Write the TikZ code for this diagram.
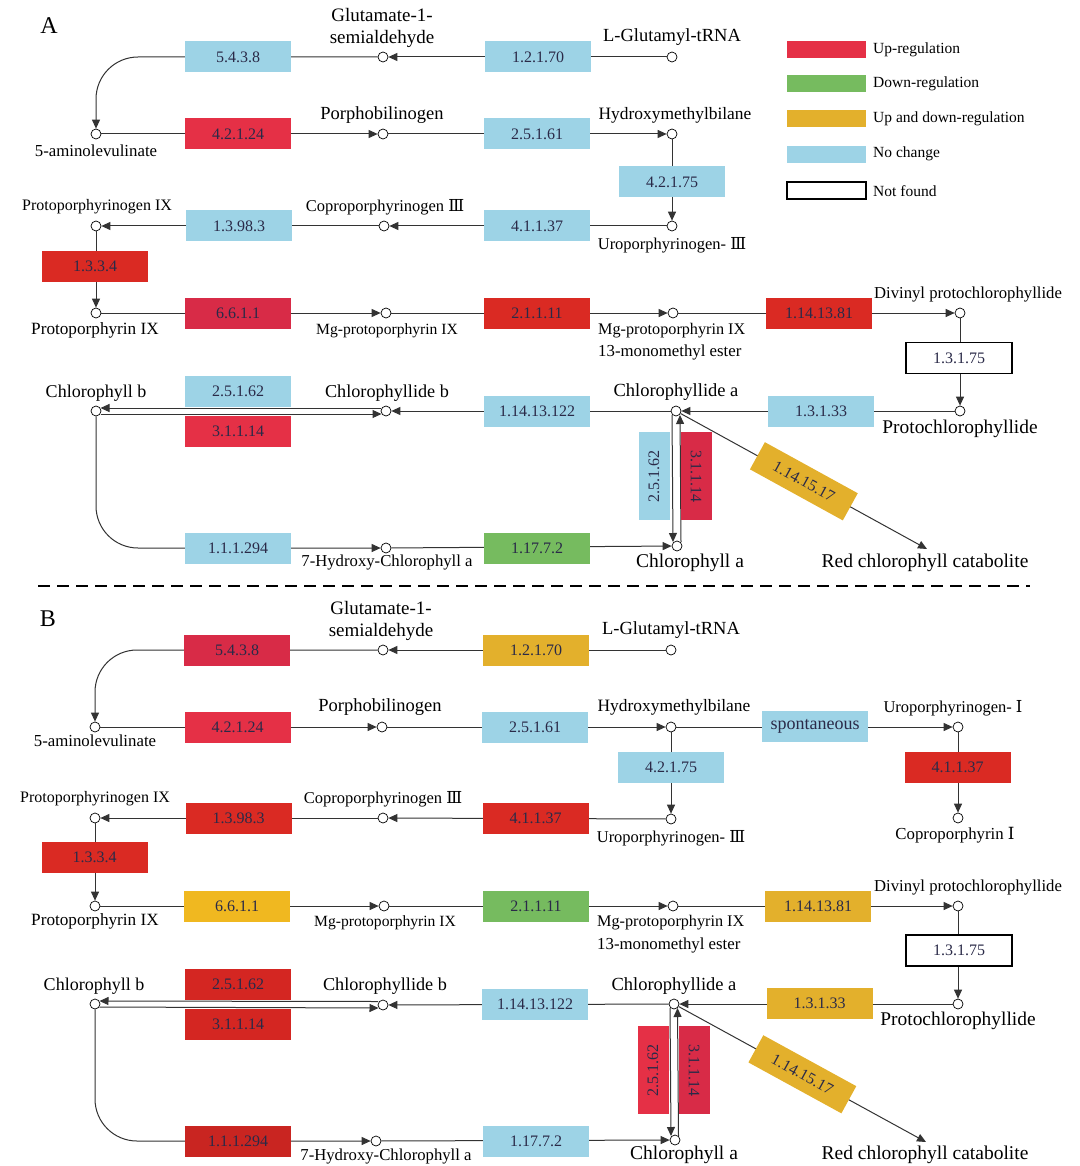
\documentclass[tikz,border=0pt]{standalone}
\usepackage{fontspec}
\setmainfont{Liberation Serif}
\newfontfamily\rnfont{DejaVu Serif}
\usetikzlibrary{arrows.meta,calc}
\definecolor{cRed}{HTML}{E53046}
\definecolor{cCrim}{HTML}{D82B47}
\definecolor{cRedB}{HTML}{DA2A23}
\definecolor{cRedC}{HTML}{D42622}
\definecolor{cRedD}{HTML}{C92521}
\definecolor{cGreen}{HTML}{76BB5F}
\definecolor{cOr}{HTML}{E3B02C}
\definecolor{cOrB}{HTML}{F0B820}
\definecolor{cBlue}{HTML}{9DD3E6}
\definecolor{ink}{HTML}{2A2A48}
\definecolor{lnc}{HTML}{333333}
\begin{document}
\begin{tikzpicture}[x=1pt,y=-1pt,
 met/.style={circle,draw=black,fill=white,inner sep=0pt,minimum size=10pt,line width=0.7pt},
 conn/.style={draw=lnc,line width=1pt},
 arr/.style={conn,-{Triangle[length=9pt,width=8pt]}},
 ebox/.style={rectangle,minimum width=106pt,minimum height=31pt,inner sep=0pt,text=ink,font=\fontsize{16}{16}\selectfont},
 vbox/.style={rectangle,minimum width=88pt,minimum height=31pt,inner sep=0pt,text=ink,font=\fontsize{16}{16}\selectfont},
 nf/.style={draw=black,line width=1.3pt,fill=white},
 lab/.style={inner sep=0pt,text=black,font=\fontsize{#1}{#1}\selectfont},
 leg/.style={rectangle,minimum width=79pt,minimum height=17pt,inner sep=0pt},
]
\useasboundingbox (0,0) rectangle (1079,1166);

% ================= PANEL A =================
\node[lab=24] (Aletter) at (49,26) {A};
% metabolites
\node[met] (Aglu) at (383,57) {};
\node[met] (Altr) at (672,57) {};
\node[met] (Aala) at (96,134) {};
\node[met] (Apbg) at (383,134) {};
\node[met] (Ahmb) at (672,134) {};
\node[met] (Auro) at (672,226) {};
\node[met] (Acop) at (384,226) {};
\node[met] (Appg) at (96,226) {};
\node[met] (Appx) at (96,313) {};
\node[met] (Amgp) at (386,313) {};
\node[met] (Amge) at (673,313) {};
\node[met] (Advp) at (960,313) {};
\node[met] (Apch) at (960,411) {};
\node[met] (Acda) at (676,411) {};
\node[met] (Acdb) at (386,411) {};
\node[met] (Achb) at (96,411) {};
\node[met] (Ahyd) at (386,548) {};
\node[met] (Acha) at (677,546) {};
\coordinate (Arcc) at (927,549);
% connectors
\draw[arr] (Altr) -- (Aglu);
\draw[arr,rounded corners=42pt] (Aglu) -| (Aala);
\draw[arr] (Aala) -- (Apbg);
\draw[arr] (Apbg) -- (Ahmb);
\draw[arr] (Ahmb) -- (Auro);
\draw[arr] (Auro) -- (Acop);
\draw[arr] (Acop) -- (Appg);
\draw[arr] (Appg) -- (Appx);
\draw[arr] (Appx) -- (Amgp);
\draw[arr] (Amgp) -- (Amge);
\draw[arr] (Amge) -- (Advp);
\draw[arr] (Advp) -- (Apch);
\draw[arr] (Apch) -- (Acda);
\draw[arr] (Acda) -- (Acdb);
\draw[arr] ($(Acdb.center)+(-5,-3)$) -- ($(Achb.center)+(4.5,-3)$);
\draw[arr] ($(Achb.center)+(4.5,3)$) -- ($(Acdb.center)+(-4.5,3)$);
\draw[arr,rounded corners=42pt] (Achb) |- (Ahyd);
\draw[arr] (Ahyd) -- (Acha);
\draw[arr] ($(Acda.center)+(-4,4)$) -- ($(Acha.center)+(-4,-4)$);
\draw[arr] ($(Acha.center)+(4,-4)$) -- ($(Acda.center)+(4,4)$);
\draw[arr] (Acda) -- node[ebox,sloped,fill=cOr] (Ae21) {1.14.15.17} (Arcc);
% enzymes
\node[ebox,fill=cBlue] (Ae1) at (238,57) {5.4.3.8};
\node[ebox,fill=cBlue] (Ae2) at (538,57) {1.2.1.70};
\node[ebox,fill=cRed] (Ae3) at (238,134) {4.2.1.24};
\node[ebox,fill=cBlue] (Ae4) at (537,134) {2.5.1.61};
\node[ebox,fill=cBlue] (Ae5) at (672,182) {4.2.1.75};
\node[ebox,fill=cBlue] (Ae6) at (537,226) {4.1.1.37};
\node[ebox,fill=cBlue] (Ae7) at (239,226) {1.3.98.3};
\node[ebox,fill=cRedB] (Ae8) at (95,266) {1.3.3.4};
\node[ebox,fill=cCrim] (Ae9) at (238,313) {6.6.1.1};
\node[ebox,fill=cRedB] (Ae10) at (537,313) {2.1.1.11};
\node[ebox,fill=cRedB] (Ae11) at (819,313) {1.14.13.81};
\node[ebox,nf] (Ae12) at (959,358) {1.3.1.75};
\node[ebox,fill=cBlue] (Ae13) at (821,411) {1.3.1.33};
\node[ebox,fill=cBlue] (Ae14) at (537,411) {1.14.13.122};
\node[ebox,fill=cBlue] (Ae15) at (238,391) {2.5.1.62};
\node[ebox,fill=cRed] (Ae16) at (238,431) {3.1.1.14};
\node[ebox,fill=cBlue] (Ae17) at (238,548) {1.1.1.294};
\node[ebox,fill=cGreen] (Ae18) at (537,548) {1.17.7.2};
\node[vbox,fill=cBlue,rotate=90] (Ae19) at (654,476) {2.5.1.62};
\node[vbox,fill=cCrim,rotate=-90] (Ae20) at (696,476) {3.1.1.14};
% labels
\node[inner sep=0pt,align=center,font=\fontsize{19}{21.5}\selectfont] (Al1) at (382,28) {Glutamate-1-\\semialdehyde};
\node[lab=18.5] (Al2) at (672,37) {L-Glutamyl-tRNA};
\node[lab=16.8] (Al3) at (96,151) {5-aminolevulinate};
\node[lab=18.5] (Al4) at (382,115) {Porphobilinogen};
\node[lab=17.4] (Al5) at (675,115) {Hydroxymethylbilane};
\node[lab=16] (Al6) at (97,207) {Protoporphyrinogen IX};
\node[lab=16.5] (Al7) at (385,207) {Coproporphyrinogen {\rnfont Ⅲ}};
\node[lab=16.5] (Al8) at (672,245) {Uroporphyrinogen- {\rnfont Ⅲ}};
\node[lab=17.2] (Al9) at (95,330) {Protoporphyrin IX};
\node[lab=15.6] (Al10) at (387,331) {Mg-protoporphyrin IX};
\node[lab=16.2,anchor=west] (Al11) at (598,331) {Mg-protoporphyrin IX};
\node[lab=16.8,anchor=west] (Al12) at (598,352) {13-monomethyl ester};
\node[lab=16.7] (Al13) at (968,295) {Divinyl protochlorophyllide};
\node[lab=19.4] (Al14) at (960,429) {Protochlorophyllide};
\node[lab=18.5] (Al15) at (676,392) {Chlorophyllide a};
\node[lab=18.2] (Al16) at (387,393) {Chlorophyllide b};
\node[lab=18] (Al17) at (96,393) {Chlorophyll b};
\node[lab=16.7] (Al18) at (387,563) {7-Hydroxy-Chlorophyll a};
\node[lab=19.5] (Al19) at (690,563) {Chlorophyll a};
\node[lab=19.5] (Al20) at (925,563) {Red chlorophyll catabolite};
% legend
\node[leg,fill=cRed] (Lb1) at (826.5,49.5) {};
\node[leg,fill=cGreen] (Lb2) at (826.5,83.5) {};
\node[leg,fill=cOr] (Lb3) at (826.5,118.5) {};
\node[leg,fill=cBlue] (Lb4) at (826.5,154.5) {};
\node[leg,nf] (Lb5) at (826.5,190.5) {};
\node[lab=15.5,anchor=west] (Lt1) at (873,50) {Up-regulation};
\node[lab=15.5,anchor=west] (Lt2) at (873,84) {Down-regulation};
\node[lab=15.5,anchor=west] (Lt3) at (873,119) {Up and down-regulation};
\node[lab=15.5,anchor=west] (Lt4) at (873,154) {No change};
\node[lab=15.5,anchor=west] (Lt5) at (873,191) {Not found};

% separator
\coordinate (S1) at (38,586);
\coordinate (S2) at (1030,586);
\draw[black,line width=1.3pt,dash pattern=on 12pt off 7pt] (S1) -- (S2);

% ================= PANEL B =================
\begin{scope}[shift={(0,593)}]
\node[lab=24] (Bletter) at (48,26) {B};
\node[met] (Bglu) at (383,57) {};
\node[met] (Bltr) at (671,57) {};
\node[met] (Bala) at (95,134) {};
\node[met] (Bpbg) at (382,134) {};
\node[met] (Bhmb) at (671,134) {};
\node[met] (Buri) at (958,134) {};
\node[met] (Bcpi) at (958,225) {};
\node[met] (Buro) at (671,226) {};
\node[met] (Bcop) at (383,225) {};
\node[met] (Bppg) at (95,225) {};
\node[met] (Bppx) at (95,313) {};
\node[met] (Bmgp) at (384,313) {};
\node[met] (Bmge) at (673,313) {};
\node[met] (Bdvp) at (958,313) {};
\node[met] (Bpch) at (958,411) {};
\node[met] (Bcda) at (674,411) {};
\node[met] (Bcdb) at (383,412) {};
\node[met] (Bchb) at (95,411) {};
\node[met] (Bhyd) at (376,548) {};
\node[met] (Bcha) at (675,547) {};
\coordinate (Brcc) at (926,549);
\draw[arr] (Bltr) -- (Bglu);
\draw[arr,rounded corners=42pt] (Bglu) -| (Bala);
\draw[arr] (Bala) -- (Bpbg);
\draw[arr] (Bpbg) -- (Bhmb);
\draw[arr] (Bhmb) -- (Buri);
\draw[arr] (Buri) -- (Bcpi);
\draw[arr] (Bhmb) -- (Buro);
\draw[arr] (Buro) -- (Bcop);
\draw[arr] (Bcop) -- (Bppg);
\draw[arr] (Bppg) -- (Bppx);
\draw[arr] (Bppx) -- (Bmgp);
\draw[arr] (Bmgp) -- (Bmge);
\draw[arr] (Bmge) -- (Bdvp);
\draw[arr] (Bdvp) -- (Bpch);
\draw[arr] (Bpch) -- (Bcda);
\draw[arr] (Bcda) -- (Bcdb);
\draw[arr] ($(Bcdb.center)+(-5,-3.5)$) -- ($(Bchb.center)+(4.5,-3)$);
\draw[arr] ($(Bchb.center)+(4.5,3)$) -- ($(Bcdb.center)+(-4.5,3)$);
\draw[arr,rounded corners=42pt] (Bchb) |- (Bhyd);
\draw[arr] (Bhyd) -- (Bcha);
\draw[arr] ($(Bcda.center)+(-4,4)$) -- ($(Bcha.center)+(-4,-4)$);
\draw[arr] ($(Bcha.center)+(3.5,-4)$) -- ($(Bcda.center)+(3.5,4)$);
\draw[arr] (Bcda) -- node[ebox,sloped,fill=cOr] (Be23) {1.14.15.17} (Brcc);
\node[ebox,fill=cCrim] (Be1) at (237,57) {5.4.3.8};
\node[ebox,fill=cOr] (Be2) at (536,57) {1.2.1.70};
\node[ebox,fill=cRed] (Be3) at (237.5,134) {4.2.1.24};
\node[ebox,fill=cBlue] (Be4) at (535,134) {2.5.1.61};
\node[ebox,fill=cBlue] (Be5) at (815,133.5) {\fontsize{18}{18}\selectfont spontaneous};
\node[ebox,fill=cRedB] (Be6) at (957.5,174.5) {4.1.1.37};
\node[ebox,fill=cBlue] (Be7) at (671,174.5) {4.2.1.75};
\node[ebox,fill=cRedB] (Be8) at (535.5,225.5) {4.1.1.37};
\node[ebox,fill=cRedB] (Be9) at (238.5,225.5) {1.3.98.3};
\node[ebox,fill=cRedB] (Be10) at (94.5,264.5) {1.3.3.4};
\node[ebox,fill=cOrB] (Be11) at (237,313) {6.6.1.1};
\node[ebox,fill=cGreen] (Be12) at (536,313) {2.1.1.11};
\node[ebox,fill=cOr] (Be13) at (818,313) {1.14.13.81};
\node[ebox,nf] (Be14) at (959,357.5) {1.3.1.75};
\node[ebox,fill=cOr] (Be15) at (819.5,410.5) {1.3.1.33};
\node[ebox,fill=cBlue] (Be16) at (535,411) {1.14.13.122};
\node[ebox,fill=cRedC] (Be17) at (238,391.5) {2.5.1.62};
\node[ebox,fill=cRedC] (Be18) at (238,431) {3.1.1.14};
\node[ebox,fill=cRedD] (Be19) at (238,548) {1.1.1.294};
\node[ebox,fill=cBlue] (Be20) at (536,548) {1.17.7.2};
\node[vbox,fill=cRed,rotate=90] (Be21) at (653,477) {2.5.1.62};
\node[vbox,fill=cCrim,rotate=-90] (Be22) at (694,477) {3.1.1.14};
\node[inner sep=0pt,align=center,font=\fontsize{19}{21.5}\selectfont] (Bl1) at (381,28) {Glutamate-1-\\semialdehyde};
\node[lab=18.5] (Bl2) at (671,37) {L-Glutamyl-tRNA};
\node[lab=16.8] (Bl3) at (95,148) {5-aminolevulinate};
\node[lab=18.5] (Bl4) at (380,114) {Porphobilinogen};
\node[lab=17.4] (Bl5) at (674,114) {Hydroxymethylbilane};
\node[lab=16.5] (Bl6) at (953,115) {Uroporphyrinogen- {\rnfont Ⅰ}};
\node[lab=16.8] (Bl7) at (955,242) {Coproporphyrin {\rnfont Ⅰ}};
\node[lab=16] (Bl8) at (95,206) {Protoporphyrinogen IX};
\node[lab=16.5] (Bl9) at (383,206) {Coproporphyrinogen {\rnfont Ⅲ}};
\node[lab=16.5] (Bl10) at (671,245) {Uroporphyrinogen- {\rnfont Ⅲ}};
\node[lab=17.2] (Bl11) at (95,328) {Protoporphyrin IX};
\node[lab=15.6] (Bl12) at (385,330) {Mg-protoporphyrin IX};
\node[lab=16.2,anchor=west] (Bl13) at (597,330) {Mg-protoporphyrin IX};
\node[lab=16.8,anchor=west] (Bl14) at (597,352) {13-monomethyl ester};
\node[lab=16.7] (Bl15) at (968,294) {Divinyl protochlorophyllide};
\node[lab=19.4] (Bl16) at (958,428) {Protochlorophyllide};
\node[lab=18.5] (Bl17) at (674,393) {Chlorophyllide a};
\node[lab=18.2] (Bl18) at (385,393) {Chlorophyllide b};
\node[lab=18] (Bl19) at (94,393) {Chlorophyll b};
\node[lab=16.7] (Bl20) at (386,563) {7-Hydroxy-Chlorophyll a};
\node[lab=19.5] (Bl21) at (684,562) {Chlorophyll a};
\node[lab=19.5] (Bl22) at (925,562) {Red chlorophyll catabolite};
\end{scope}
\end{tikzpicture}
\end{document}
